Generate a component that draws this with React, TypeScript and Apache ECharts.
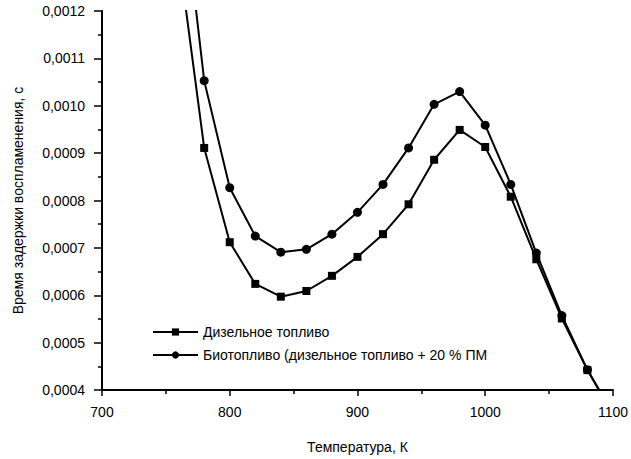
import React, { useEffect, useRef } from "react";
import * as echarts from "echarts";

const temperatures = [760, 780, 800, 820, 840, 860, 880, 900, 920, 940, 960, 980, 1000, 1020, 1040, 1060, 1080, 1100];
const dieselValues = [0.00132, 0.000911, 0.000712, 0.000624, 0.000597, 0.000609, 0.000641, 0.000681, 0.000729, 0.000792, 0.000886, 0.000949, 0.000913, 0.000808, 0.000676, 0.000551, 0.000442, 0.000349];
const bioValues = [0.00152, 0.001053, 0.000827, 0.000725, 0.000691, 0.000697, 0.000729, 0.000775, 0.000834, 0.000911, 0.001003, 0.00103, 0.000959, 0.000834, 0.000689, 0.000557, 0.000443, 0.00035];
const seriesNames = ["Дизельное топливо", "Биотопливо (дизельное топливо + 20 % ПМ"];
const xTitle = "Температура, К";
const yTitle = "Время задержки воспламенения, с";

const FONT = "'Liberation Sans', Arial, sans-serif";

function buildData(values: number[]) {
  return temperatures.map((t, i) => {
    const edge = i === 0 || i === temperatures.length - 1;
    return edge ? { value: [t, values[i]], symbol: "none" } : { value: [t, values[i]] };
  });
}

export default function App() {
  const ref = useRef<HTMLDivElement>(null);
  useEffect(() => {
    if (!ref.current) return;
    const chart = echarts.init(ref.current, undefined, { renderer: "svg" });
    chart.setOption({
      animation: false,
      backgroundColor: "#ffffff",
      textStyle: { fontFamily: FONT },
      grid: { left: 102, top: 11, right: 8, bottom: 66, containLabel: false },
      legend: {
        left: 147,
        top: 320,
        orient: "vertical",
        itemWidth: 45,
        itemHeight: 9,
        itemGap: 9,
        textStyle: { color: "#000", fontSize: 14, fontFamily: FONT },
        data: seriesNames,
      },
      xAxis: {
        type: "value",
        min: 700,
        max: 1100,
        interval: 100,
        name: xTitle,
        nameLocation: "middle",
        nameGap: 50,
        nameTextStyle: { color: "#000", fontSize: 14, fontFamily: FONT },
        axisLine: { show: true, onZero: false, lineStyle: { color: "#000", width: 2 } },
        axisTick: { show: true, inside: false, length: 6, lineStyle: { color: "#000", width: 1.5 } },
        minorTick: { show: true, splitNumber: 2, length: 4, lineStyle: { color: "#000", width: 1.5 } },
        axisLabel: {
          color: "#000",
          fontSize: 14,
          margin: 15,
          fontFamily: FONT,
          formatter: (v: number) => String(v),
        },
        splitLine: { show: false },
      },
      yAxis: {
        type: "value",
        min: 0.0004,
        max: 0.0012,
        interval: 0.0001,
        name: yTitle,
        nameLocation: "middle",
        nameGap: 77,
        nameTextStyle: { color: "#000", fontSize: 14, fontFamily: FONT },
        axisLine: { show: true, onZero: false, lineStyle: { color: "#000", width: 2 } },
        axisTick: { show: true, inside: false, length: 8, lineStyle: { color: "#000", width: 1.5 } },
        minorTick: { show: true, splitNumber: 2, length: 4, lineStyle: { color: "#000", width: 1.5 } },
        axisLabel: {
          color: "#000",
          fontSize: 14,
          margin: 17,
          fontFamily: FONT,
          formatter: (v: number) => v.toFixed(4).replace(".", ","),
        },
        splitLine: { show: false },
      },
      series: [
        {
          name: seriesNames[0],
          type: "line",
          data: buildData(dieselValues),
          symbol: "rect",
          symbolSize: 8,
          showSymbol: true,
          clip: true,
          lineStyle: { color: "#000", width: 2 },
          itemStyle: { color: "#000" },
        },
        {
          name: seriesNames[1],
          type: "line",
          data: buildData(bioValues),
          symbol: "circle",
          symbolSize: 9,
          showSymbol: true,
          clip: true,
          lineStyle: { color: "#000", width: 2 },
          itemStyle: { color: "#000" },
        },
      ],
    });
    return () => chart.dispose();
  }, []);
  return <div ref={ref} style={{ width: 631, height: 459, position: "absolute", left: 0, top: 0 }} />;
}
